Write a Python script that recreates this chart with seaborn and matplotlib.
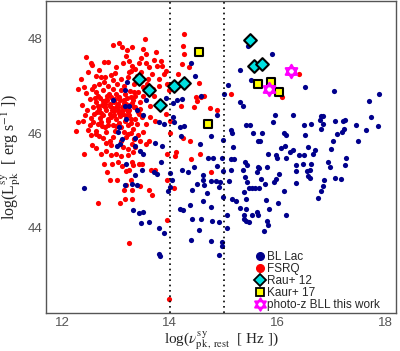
import numpy as np
import pandas as pd
import matplotlib as mpl
mpl.use("Agg")
import matplotlib.pyplot as plt
import seaborn as sns
from matplotlib.path import Path
from matplotlib.lines import Line2D
from matplotlib.ticker import FixedLocator

sns.set_style("white")
mpl.rcParams["mathtext.fontset"] = "stix"
mpl.rcParams["font.family"] = ["Liberation Sans", "DejaVu Sans"]

# FSRQ (red) : log nu_pk,rest , log L_pk
fsrq_x = [13.05, 12.94, 13.12, 13.20, 13.19, 13.30, 12.44, 12.54, 12.56, 12.77, 12.86, 12.68, 12.99, 13.13, 13.24, 13.28,
          12.80, 12.35, 12.40, 12.59, 12.72, 12.94, 13.10, 13.22, 13.33, 12.51, 12.66, 12.76, 12.85, 12.91, 13.00, 13.10,
          12.63, 12.79, 12.88, 12.97, 13.07, 13.19, 13.31, 12.69, 12.82, 12.94, 13.03, 13.13, 13.25, 13.34, 12.60, 12.76,
          12.91, 13.00, 13.16, 13.28, 12.29, 12.38, 12.51, 12.66, 12.79, 12.94, 13.10, 13.22, 13.31, 12.25,
          12.54, 12.62, 12.68, 12.76, 12.88, 12.94, 13.10, 13.19, 13.28, 13.34, 12.56, 12.63, 12.82, 12.91, 13.13, 13.22,
          13.30, 12.41, 12.72, 12.82, 12.91, 13.00, 13.10, 13.22, 13.31, 12.77, 12.93, 13.03, 13.12, 13.31, 12.84, 13.18,
          13.25, 12.88, 13.02, 13.15, 13.19, 13.28, 12.66, 13.16, 13.08, 13.30, 13.24,
          13.53, 14.27, 13.51, 13.55, 13.42, 13.55, 13.61, 13.30, 13.76, 13.86, 13.84, 13.66, 13.89, 13.92, 14.25, 14.26,
          14.23, 14.35, 14.15, 13.79, 13.79, 13.95, 14.54, 13.98, 13.58, 13.39, 13.33, 13.51, 13.70, 14.48, 14.57, 14.64,
          14.51, 14.45, 14.74, 14.88, 13.92, 14.20, 14.01, 13.42, 13.55, 13.64, 13.36, 13.45, 13.39, 13.64, 13.73,
          15.13, 16.08, 16.40,
          13.51, 13.40, 13.33, 13.45, 13.55, 13.61, 13.36, 14.00, 14.38, 14.25, 14.12, 14.09, 13.94, 14.56, 14.40, 13.30,
          13.42, 13.48, 13.65, 13.73, 14.76, 13.30, 13.67, 13.61, 13.94, 13.44, 13.95, 14.08, 13.98,
          12.62, 12.70, 12.74, 12.84, 12.87, 12.95, 13.02, 13.05, 13.12, 13.16, 13.21, 13.26, 13.35, 13.40, 13.44, 13.48,
          12.58, 12.65, 12.71, 12.73, 12.85, 12.88, 12.97, 13.05, 13.08, 13.19, 13.23, 13.27, 13.36, 13.40, 12.53, 12.47,
          12.45, 12.56, 12.68, 12.78, 12.90, 13.02, 13.15, 13.25, 13.36, 13.46, 13.60, 13.68, 13.50, 12.48, 12.62, 12.82,
          12.98, 13.15, 13.22, 12.74, 12.86, 13.00, 13.06, 12.92, 12.80, 13.15, 13.26, 12.99, 12.83, 12.57, 12.43, 12.36,
          12.30, 13.38, 13.47, 13.70, 13.75, 13.00, 12.63, 12.48,
          12.75, 12.89, 13.04, 13.18, 13.29, 12.67, 12.81, 12.96, 13.11, 13.24, 12.72, 12.86, 13.01, 13.14, 13.27, 12.61]
fsrq_y = [47.91, 47.87, 47.83, 47.76, 47.64, 47.82, 47.61, 47.50, 47.45, 47.52, 47.52, 47.34, 47.27, 47.50, 47.54, 47.33,
          47.19, 47.15, 46.98, 47.01, 47.20, 47.12, 47.15, 47.19, 47.05, 46.72, 46.80, 46.91, 47.01, 46.77, 46.84, 46.91,
          46.66, 46.63, 46.59, 46.66, 46.70, 46.63, 46.70, 46.52, 46.49, 46.54, 46.49, 46.41, 46.49, 46.56, 46.41, 46.38,
          46.34, 46.31, 46.27, 46.31, 46.24, 46.27, 46.17, 46.20, 46.13, 46.17, 46.13, 46.17, 46.10, 46.06,
          45.96, 45.98, 45.94, 45.91, 45.84, 45.92, 45.85, 45.92, 46.01, 45.89, 45.75, 45.70, 45.80, 45.75, 45.71, 45.68,
          45.78, 45.57, 45.56, 45.63, 45.54, 45.57, 45.52, 45.54, 45.61, 45.36, 45.36, 45.40, 45.31, 45.33, 45.19, 45.21,
          45.23, 45.01, 45.01, 44.80, 44.90, 45.02, 44.53, 44.62, 44.52, 44.62, 43.69,
          47.99, 48.10, 47.78, 47.68, 47.50, 47.48, 47.40, 47.43, 47.43, 47.43, 47.54, 47.26, 47.26, 47.31, 47.85, 47.68,
          47.47, 47.40, 47.26, 47.15, 47.01, 47.05, 47.06, 46.91, 47.05, 47.22, 46.87, 46.98, 46.80, 46.77, 46.77, 46.80,
          46.68, 46.56, 46.54, 46.49, 46.42, 46.59, 46.27, 46.42, 46.21, 46.34, 46.56, 46.66, 46.21, 46.59, 46.27,
          46.83, 46.78, 47.26,
          46.04, 45.96, 45.89, 45.85, 45.78, 45.85, 45.71, 46.01, 45.85, 45.91, 45.61, 45.52, 45.56, 45.56, 45.45, 45.40,
          45.36, 45.35, 45.23, 45.22, 45.19, 44.80, 44.69, 44.80, 44.17, 44.88, 45.02, 44.85, 42.50,
          46.88, 46.74, 46.60, 46.71, 46.83, 46.93, 46.58, 46.77, 46.56, 46.83, 46.74, 46.90, 46.79, 46.88, 46.51, 46.35,
          46.55, 46.45, 46.33, 46.25, 46.27, 46.42, 46.40, 46.23, 46.36, 46.36, 46.45, 46.22, 46.30, 46.45, 46.33, 46.50,
          46.85, 46.95, 47.05, 47.08, 47.24, 47.05, 47.00, 47.30, 47.37, 47.60, 47.15, 46.95, 46.80, 46.08, 46.05, 46.02,
          46.05, 46.02, 45.98, 46.15, 46.18, 46.15, 46.44, 46.49, 46.55, 46.64, 46.60, 46.73, 46.79, 46.25, 46.38, 46.60,
          46.95, 47.12, 47.30, 47.55, 47.72, 47.40, 47.22, 47.30,
          46.68, 46.62, 46.62, 46.52, 46.64, 46.58, 46.70, 46.47, 46.47, 46.38, 46.44, 46.30, 46.56, 46.70, 46.78, 46.75]

# BL Lac (navy)
bll_x = [13.21, 13.16, 12.95, 13.16, 13.24, 13.19, 13.05,
         13.03, 13.12, 13.02, 13.08, 13.19, 12.41, 13.16,
         14.40, 14.46, 13.92, 14.14, 14.23, 14.06, 13.55, 13.39, 13.51, 13.79, 13.89, 14.06, 14.07, 14.18, 14.26, 14.58,
         13.36, 13.36, 13.44, 13.51, 13.73, 13.86, 14.20, 14.56, 14.77, 13.84, 13.71, 13.76, 13.48, 13.36, 13.39, 13.30,
         14.01, 14.04, 14.00, 13.96, 14.22, 14.33, 14.45, 14.62, 14.71, 14.81, 14.62, 14.76, 14.63, 14.69, 14.62,
         14.41, 14.51, 14.76, 14.19, 14.25, 14.38, 13.32, 13.51, 13.42, 13.47, 13.61, 13.79, 13.89, 14.41, 14.58, 14.79,
         14.54, 14.40, 14.76, 13.79, 13.82,
         15.08, 15.50, 15.00, 15.31, 15.35, 14.88, 15.95, 16.28, 15.41, 15.49, 15.92, 16.49, 15.13, 15.15, 15.54, 15.71,
         16.12, 16.16, 14.99, 15.63, 15.67, 16.06, 16.14, 15.17, 16.23, 16.29, 15.83, 15.97, 15.99, 16.39, 16.15, 14.97,
         15.13, 15.19, 15.40, 15.44, 15.63, 15.66, 15.81, 14.88, 16.34, 16.48,
         15.45, 15.89, 15.31,
         14.99, 15.13, 15.35, 15.62, 16.03, 16.34, 14.86, 14.94, 15.10, 15.40, 15.44, 15.69, 15.77, 15.93, 15.98, 16.35,
         14.91, 15.47, 15.53, 15.59, 15.66, 15.38, 16.12, 14.99, 15.15, 15.22, 15.41, 15.78, 16.00, 15.30, 15.41, 15.84,
         15.62, 15.53, 15.64, 15.38, 15.07, 16.15, 15.38, 15.41, 15.47, 15.81, 14.92, 15.07, 15.83, 15.75, 14.96, 14.97,
         14.92,
         17.04, 17.88, 17.70, 17.74, 17.86, 17.46, 17.64, 16.63, 16.80, 16.84, 16.79, 16.84, 16.80, 17.07, 17.21, 17.26,
         17.24, 17.19, 17.10, 16.51, 17.03, 17.50, 16.57, 16.69, 16.49, 16.65, 16.99, 16.94, 16.98, 17.27, 17.25, 16.62,
         16.51,
         16.54, 16.61, 16.56, 16.60, 16.87, 17.07, 17.18, 16.85, 16.80, 16.75]
bll_y = [47.08, 46.92, 46.71, 46.58, 46.58, 46.31, 46.13,
         46.03, 45.89, 45.73, 45.78, 45.36, 44.85, 44.90,
         47.50, 47.22, 46.75, 46.70, 46.73, 46.65, 46.70, 46.50, 46.38, 46.24, 46.19, 46.34, 46.24, 46.13, 46.15, 46.80,
         45.91, 45.73, 45.63, 45.56, 45.80, 45.73, 45.94, 45.77, 45.94, 45.40, 45.19, 45.14, 45.23, 45.12, 44.90, 44.94,
         45.17, 45.02, 44.87, 44.78, 45.23, 45.19, 45.29, 45.12, 45.47, 45.47, 45.01, 45.00, 44.90, 44.73, 44.58,
         44.81, 44.93, 44.45, 44.40, 44.39, 44.48, 44.39, 44.34, 44.31, 44.11, 44.13, 43.99, 43.90, 44.18, 44.18, 44.15,
         43.96, 43.75, 43.73, 43.46, 43.40,
         47.03, 47.13, 46.83, 46.66, 46.59, 46.38, 46.39, 46.39, 46.18, 46.17, 46.24, 46.17, 46.08, 46.01, 46.00, 46.00,
         46.01, 45.96, 45.87, 45.85, 45.83, 45.70, 45.73, 45.71, 45.61, 45.64, 45.57, 45.54, 45.47, 45.54, 45.47, 45.47,
         45.45, 45.45, 45.40, 45.33, 45.29, 45.26, 45.28, 45.32, 45.33, 45.36,
         47.85, 47.68, 47.35,
         45.20, 45.22, 45.22, 45.19, 45.15, 45.20, 44.99, 44.97, 44.99, 45.08, 44.97, 45.03, 44.94, 44.97, 45.03, 44.96,
         44.87, 44.85, 44.85, 44.85, 44.85, 44.76, 44.78, 44.66, 44.62, 44.57, 44.62, 44.59, 44.52, 44.43, 44.41, 44.41,
         44.34, 44.27, 44.27, 44.27, 44.27, 44.27, 44.20, 44.15, 44.13, 44.15, 44.12, 44.01, 44.06, 43.94, 43.70, 43.61,
         43.43,
         46.89, 46.84, 46.69, 46.34, 46.15, 46.18, 46.08, 46.20, 46.36, 46.36, 46.29, 46.19, 46.10, 46.27, 46.27, 46.29,
         46.10, 46.04, 45.99, 45.96, 45.85, 45.85, 45.71, 45.64, 45.55, 45.56, 45.67, 45.40, 45.30, 45.47, 45.33, 45.36,
         46.98,
         45.20, 45.22, 45.10, 45.06, 45.01, 45.06, 45.03, 44.89, 44.78, 44.64]

rau_x = [13.43, 13.62, 13.82, 14.07, 14.27, 15.48, 15.56, 15.72]
rau_y = [47.16, 46.91, 46.61, 47.01, 47.07, 47.98, 47.43, 47.47]
kaur_x = [14.55, 14.70, 15.63, 15.87, 16.02]
kaur_y = [47.73, 46.21, 47.05, 47.09, 46.88]
photz_x = [16.25, 15.84]
photz_y = [47.33, 46.93]

fsrq = pd.DataFrame({"nu": fsrq_x, "L": fsrq_y})
bll = pd.DataFrame({"nu": bll_x, "L": bll_y})
rau = pd.DataFrame({"nu": rau_x, "L": rau_y})
kaur = pd.DataFrame({"nu": kaur_x, "L": kaur_y})
photz = pd.DataFrame({"nu": photz_x, "L": photz_y})

# star of David marker: two overlapping triangles
tri_up = [(0, 1), (-0.866, -0.5), (0.866, -0.5), (0, 1)]
tri_dn = [(0, -1), (-0.866, 0.5), (0.866, 0.5), (0, -1)]
codes = [Path.MOVETO, Path.LINETO, Path.LINETO, Path.CLOSEPOLY] * 2
hexagram = Path(tri_up + tri_dn, codes)

navy = "#00008c"
cyan = "#00e0e0"

fig = plt.figure(figsize=(4.0, 3.51), dpi=100)
ax = fig.add_axes([0.115, 0.108, 0.875, 0.889])

sns.scatterplot(data=fsrq, x="nu", y="L", color="red", s=14, linewidth=0, ax=ax)
sns.scatterplot(data=bll, x="nu", y="L", color=navy, s=14, linewidth=0, ax=ax)
ax.axvline(14, color="black", ls=(0, (1, 2.2)), lw=1.2)
ax.axvline(15, color="black", ls=(0, (1, 2.2)), lw=1.2)
sns.scatterplot(data=rau, x="nu", y="L", color=cyan, marker="D", s=42, edgecolor="black", linewidth=1.5, ax=ax)
sns.scatterplot(data=kaur, x="nu", y="L", color="yellow", marker="s", s=40, edgecolor="black", linewidth=1.5, ax=ax)
ax.scatter(photz["nu"], photz["L"], marker=hexagram, s=90, facecolors="#ffc8ff", edgecolors="magenta", linewidths=1.6)

ax.set_xlim(11.7, 18.2)
ax.set_ylim(42.2, 48.8)

ax.xaxis.set_major_locator(FixedLocator([12, 14, 16, 18]))
ax.yaxis.set_major_locator(FixedLocator([44, 46, 48]))
xminor = [n + np.log10(k) for n in range(11, 19) for k in range(1, 10)]
yminor = [n + np.log10(k) for n in range(42, 49) for k in range(1, 10)]
ax.xaxis.set_minor_locator(FixedLocator([v for v in xminor if v not in (12, 14, 16, 18)]))
ax.yaxis.set_minor_locator(FixedLocator([v for v in yminor if v not in (44, 46, 48)]))
ax.tick_params(which="major", direction="inout", length=5, width=0.9, color="#555555",
               labelcolor="#555555", labelsize=9.5, pad=0)
ax.tick_params(which="minor", direction="out", length=3, width=0.7, color="#555555")
ax.tick_params(top=False, right=False)
for sp in ax.spines.values():
    sp.set_color("#555555")
    sp.set_linewidth(1.0)

ax.set_xlabel(r"log($\nu^{\rm sy}_{\rm pk\,,\,rest}$  [ Hz ])", fontsize=11, family="Liberation Serif")
ax.set_ylabel(r"log(L$^{\rm sy}_{\rm pk}$  [ erg s$^{-1}$ ])", fontsize=11.5, family="Liberation Serif")
ax.xaxis.label.set_va("center")
ax.yaxis.label.set_va("center")
ax.xaxis.set_label_coords(0.5, -0.087)
ax.yaxis.set_label_coords(-0.098, 0.5)

handles = [
    Line2D([], [], ls="", marker="o", color=navy, markersize=5.5),
    Line2D([], [], ls="", marker="o", color="red", markersize=5.5),
    Line2D([], [], ls="", marker="D", markerfacecolor=cyan, markeredgecolor="black", markeredgewidth=1.3, markersize=6),
    Line2D([], [], ls="", marker="s", markerfacecolor="yellow", markeredgecolor="black", markeredgewidth=1.3, markersize=6),
    Line2D([], [], ls="", marker=hexagram, markerfacecolor="#ffc8ff", markeredgecolor="magenta", markeredgewidth=1.4, markersize=9),
]
labels = ["BL Lac", "FSRQ", "Rau+ 12", "Kaur+ 17", "photo-z BLL this work"]
ax.legend(handles, labels, loc="lower left", bbox_to_anchor=(0.59, 0.0), frameon=False,
          fontsize=8.5, handlelength=0.8, handletextpad=0.2, labelspacing=0.0, borderpad=0.2,
          borderaxespad=0.0)

fig.savefig("out.png", dpi=100)
